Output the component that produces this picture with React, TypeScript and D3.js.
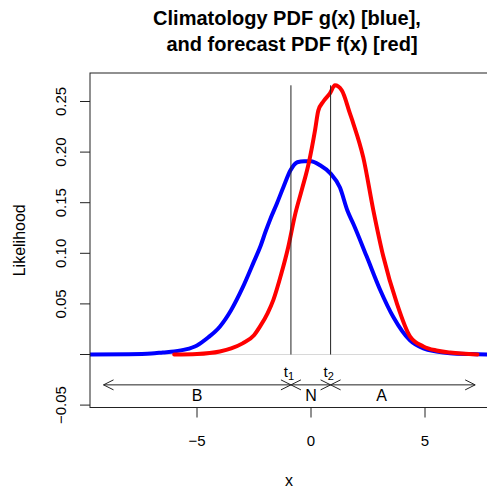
import React from 'react';
import * as d3 from 'd3';

// Climatology PDF g(x) (blue)
const climX = [-9.7, -8, -7, -6.5, -6, -5.5, -5, -4.5, -4, -3.5, -3, -2.5, -2.2, -2, -1.8, -1.5, -1.2, -0.9, -0.6, -0.3, 0, 0.4, 0.85, 1.27, 1.6, 1.86, 2.44, 3.03, 3.61, 4.34, 4.93, 5.5, 6.1, 7, 7.9];
const climY = [0, 0.0003, 0.001, 0.002, 0.003, 0.005, 0.009, 0.017, 0.0275, 0.044, 0.066, 0.092, 0.108, 0.121, 0.133, 0.149, 0.166, 0.182, 0.190, 0.191, 0.191, 0.187, 0.179, 0.165, 0.142, 0.129, 0.097, 0.064, 0.037, 0.014, 0.006, 0.003, 0.0012, 0.0004, 0];

// Forecast PDF f(x) (red)
const fcstX = [-6.0, -5, -4, -3.5, -3, -2.5, -2.24, -1.9, -1.65, -1.3, -1.0, -0.7, -0.4, -0.1, 0.18, 0.32, 0.54, 0.83, 1.05, 1.35, 1.71, 1.86, 2.29, 2.73, 3.17, 3.76, 4.34, 4.93, 5.5, 6.1, 7.3];
const fcstY = [0, 0.0005, 0.003, 0.006, 0.011, 0.019, 0.0275, 0.041, 0.054, 0.080, 0.106, 0.138, 0.163, 0.189, 0.222, 0.241, 0.250, 0.258, 0.266, 0.261, 0.238, 0.228, 0.195, 0.143, 0.097, 0.051, 0.018, 0.008, 0.004, 0.002, 0];

const yTicks = [-0.05, 0, 0.05, 0.1, 0.15, 0.2, 0.25];
const yTickLabels = ['\u22120.05', '', '0.05', '0.10', '0.15', '0.20', '0.25'];
const xTicks = [-5, 0, 5];
const xTickLabels = ['\u22125', '0', '5'];

const t1 = -0.88;
const t2 = 0.86;
const categories = ['B', 'N', 'A'];
const categoryX = [-5, 0, 3.1];
const arrowBounds = [-9.1, t1, t2, 7.2];
const arrowLevel = -0.03;
const labelLevel = -0.046;

const titleLines = ['Climatology PDF g(x) [blue],', 'and forecast PDF f(x) [red]'];
const xLabel = 'x';
const yLabel = 'Likelihood';

const W = 487;
const H = 488;
const FONT = "'Liberation Sans', Arial, Helvetica, sans-serif";

export default function App() {
  const x = d3.scaleLinear().domain([-5, 5]).range([197, 425]);
  const y = d3.scaleLinear().domain([0, 0.25]).range([354.5, 101.5]);
  const box = { left: 90, top: 73, right: 530, bottom: 407.5 };

  const mkPath = (xs: number[], ys: number[]) =>
    d3
      .line<[number, number]>()
      .x((d) => x(d[0]))
      .y((d) => y(d[1]))
      .curve(d3.curveMonotoneX)(xs.map((v, i) => [v, ys[i]] as [number, number])) || '';

  const climPath = mkPath(climX, climY);
  const fcstPath = mkPath(fcstX, fcstY);

  const topT = d3.max(fcstY) as number;
  const ay = y(arrowLevel);
  const headL = 10;
  const headH = 5;

  const arrows = [];
  for (let i = 0; i < arrowBounds.length - 1; i++) {
    const a = x(arrowBounds[i]);
    const b = x(arrowBounds[i + 1]);
    arrows.push(
      <g key={'ar' + i} stroke="#222" strokeWidth={1} fill="none">
        <line x1={a} x2={b} y1={ay} y2={ay} />
        <polyline points={`${a + headL},${ay - headH} ${a},${ay} ${a + headL},${ay + headH}`} />
        <polyline points={`${b - headL},${ay - headH} ${b},${ay} ${b - headL},${ay + headH}`} />
      </g>
    );
  }

  const titleX = [287, 292];

  return (
    <div style={{ position: 'absolute', left: 0, top: 0 }}>
      <svg width={W} height={H} style={{ display: 'block', background: '#fff' }} fontFamily={FONT}>
        <defs>
          <clipPath id="plotclip">
            <rect x={box.left} y={box.top} width={box.right - box.left} height={box.bottom - box.top} />
          </clipPath>
        </defs>
        {titleLines.map((t, i) => (
          <text key={t} x={titleX[i]} y={25 + i * 26} textAnchor="middle" fontWeight="bold" fontSize={20} fill="#000">
            {t}
          </text>
        ))}
        <g clipPath="url(#plotclip)">
          <line x1={box.left} x2={box.right} y1={y(0)} y2={y(0)} stroke="#d8d8d8" strokeWidth={1} />
          <path d={climPath} fill="none" stroke="#0000ff" strokeWidth={4} strokeLinejoin="round" strokeLinecap="round" />
          <path d={fcstPath} fill="none" stroke="#ff0000" strokeWidth={4} strokeLinejoin="round" strokeLinecap="round" />
          {[t1, t2].map((t) => (
            <line key={t} x1={x(t)} x2={x(t)} y1={y(0)} y2={y(topT)} stroke="#222" strokeWidth={1} />
          ))}
          {arrows}
          {[t1, t2].map((t, i) => (
            <text key={'tl' + i} x={x(t) - 2} y={ay - 8} textAnchor="middle" fontSize={15} fill="#000">
              t<tspan fontSize={11} dy={3}>{i + 1}</tspan>
            </text>
          ))}
          {categories.map((c, i) => (
            <text key={c} x={x(categoryX[i])} y={y(labelLevel)} textAnchor="middle" fontSize={16} fill="#000">
              {c}
            </text>
          ))}
        </g>
        <rect x={box.left} y={box.top} width={box.right - box.left} height={box.bottom - box.top} fill="none" stroke="#222" strokeWidth={1} />
        <g>
          {yTicks.map((t, i) => (
            <g key={'yt' + i}>
              <line x1={box.left} x2={box.left - 10} y1={y(t)} y2={y(t)} stroke="#222" />
              {yTickLabels[i] && (
                <text transform={`translate(${box.left - 24},${y(t)}) rotate(-90)`} textAnchor="middle" fontSize={15} fill="#000">
                  {yTickLabels[i]}
                </text>
              )}
            </g>
          ))}
          <text transform={`translate(25,${(box.top + box.bottom) / 2}) rotate(-90)`} textAnchor="middle" fontSize={16} fill="#000">
            {yLabel}
          </text>
        </g>
        <g>
          {xTicks.map((t, i) => (
            <g key={'xt' + i}>
              <line x1={x(t)} x2={x(t)} y1={box.bottom} y2={box.bottom + 10} stroke="#222" />
              <text x={x(t)} y={446} textAnchor="middle" fontSize={15} fill="#000">
                {xTickLabels[i]}
              </text>
            </g>
          ))}
          <text x={x(0) - 22} y={486} textAnchor="middle" fontSize={16} fill="#000">
            {xLabel}
          </text>
        </g>
      </svg>
    </div>
  );
}
